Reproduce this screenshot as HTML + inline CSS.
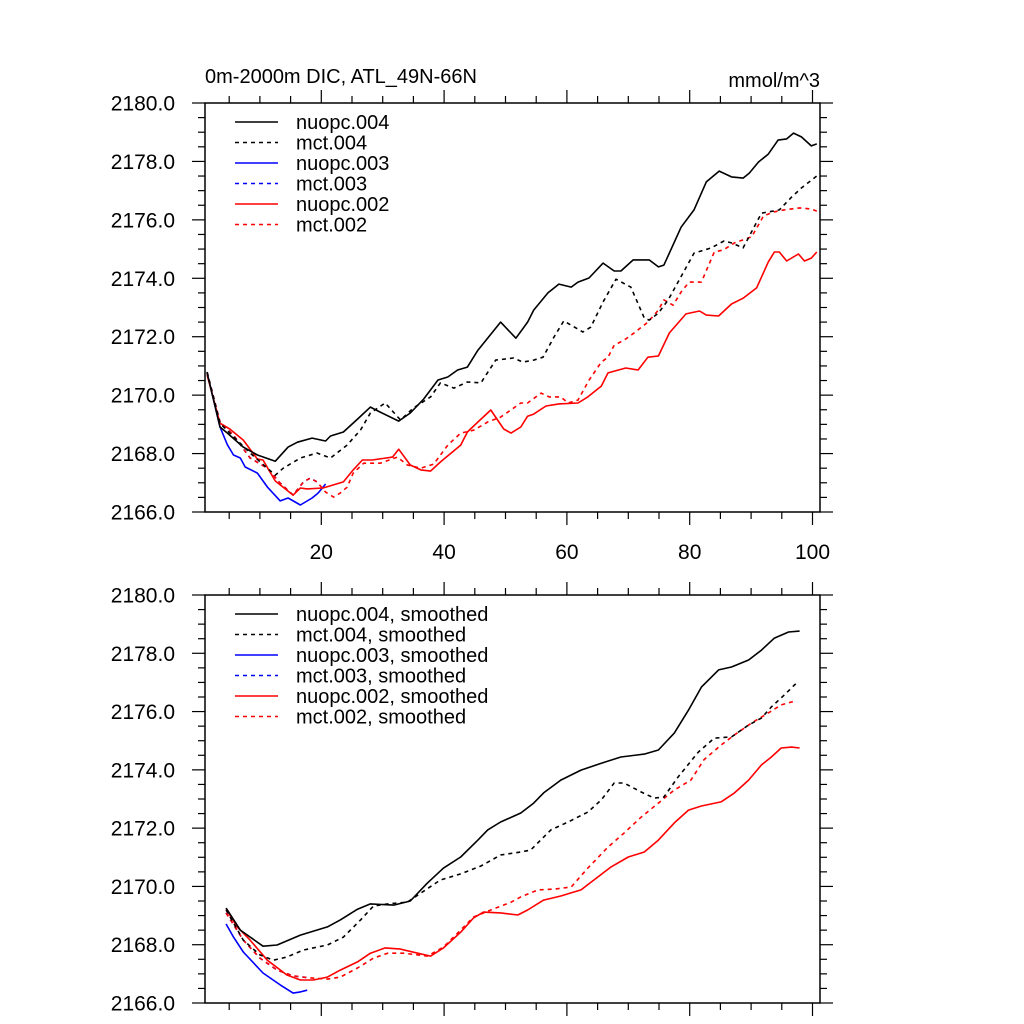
<!DOCTYPE html>
<html><head><meta charset="utf-8"><style>
html,body{margin:0;padding:0;background:#fff;}
svg{display:block;font-family:"Liberation Sans",sans-serif;}
</style></head><body>
<svg id="chart" width="1024" height="1024" viewBox="0 0 1024 1024" xmlns="http://www.w3.org/2000/svg">
<text x="205" y="83" font-size="20">0m-2000m DIC, ATL_49N-66N</text>
<text x="820" y="87" font-size="20" text-anchor="end">mmol/m^3</text>
</svg>
<script>
// ---- top panel raw series (year, value) ----
const topNuopc004X=[1.4,3.5,4.7,7.3,9.6,12.5,14.6,16.1,18.5,20.7,21.5,23.6,25.9,28.0,29.6,32.6,34.5,36.7,39.0,40.6,42.2,43.8,45.5,49.2,51.7,53.6,54.6,56.9,58.7,60.7,61.8,63.6,65.9,67.7,68.8,70.8,73.4,74.9,75.8,78.6,80.7,82.7,84.8,86.8,88.7,89.7,91.2,92.8,94.4,95.8,96.9,98.2,99.8,100.7];
const topNuopc004Y=[2170.76,2168.91,2168.70,2168.22,2167.95,2167.74,2168.22,2168.39,2168.53,2168.43,2168.60,2168.74,2169.18,2169.59,2169.42,2169.11,2169.39,2169.87,2170.52,2170.62,2170.86,2170.96,2171.54,2172.50,2171.95,2172.50,2172.91,2173.50,2173.80,2173.70,2173.87,2174.01,2174.52,2174.25,2174.25,2174.63,2174.63,2174.39,2174.45,2175.75,2176.34,2177.30,2177.67,2177.47,2177.43,2177.60,2177.98,2178.25,2178.73,2178.77,2178.97,2178.84,2178.53,2178.60];
const topMct004X=[1.4,3.5,5.1,8.4,12.5,13.8,16.6,19.3,21.5,24.2,26.4,28.0,30.4,32.9,35.0,37.8,39.4,41.6,43.8,46.0,48.4,51.3,52.8,54.6,56.1,57.9,59.5,62.6,63.9,65.9,68.0,70.4,72.6,73.4,74.9,76.5,80.7,83.5,85.6,86.8,88.7,91.7,92.8,94.6,96.6,98.2,100.7];
const topMct004Y=[2170.79,2169.04,2168.70,2168.02,2167.26,2167.50,2167.85,2168.02,2167.85,2168.29,2168.81,2169.39,2169.73,2169.15,2169.56,2169.94,2170.42,2170.24,2170.45,2170.42,2171.20,2171.27,2171.13,2171.20,2171.30,2171.99,2172.54,2172.16,2172.33,2173.19,2173.97,2173.70,2172.64,2172.57,2172.81,2173.26,2174.86,2175.04,2175.28,2175.21,2175.04,2176.23,2176.27,2176.34,2176.78,2177.09,2177.50];
const topNuopc003X=[1.4,3.5,4.7,5.7,6.8,7.6,9.6,11.2,13.3,14.6,16.6,18.5,19.5,20.7];
const topNuopc003Y=[2170.76,2168.91,2168.30,2167.95,2167.85,2167.54,2167.33,2166.86,2166.38,2166.48,2166.24,2166.48,2166.65,2166.96];
const topMct003X=[1.4,3.5,5.7,8.4,11.2,13.3,15.4,17.1,18.2,19.3];
const topMct003Y=[2170.79,2169.08,2168.63,2167.85,2167.50,2166.99,2166.58,2167.03,2167.16,2167.03];
const topNuopc002X=[1.4,3.5,5.1,7.3,9.6,10.5,12.5,13.8,15.4,16.6,17.7,20.3,23.6,25.2,26.7,28.3,31.6,32.6,34.5,36.2,37.8,39.4,42.7,43.8,45.5,47.6,49.7,50.9,52.5,53.6,54.6,56.6,58.7,61.8,63.4,65.6,66.7,69.6,71.6,73.2,74.9,76.7,79.4,81.6,82.7,84.7,86.8,88.7,90.9,92.8,93.8,94.6,95.8,97.7,98.7,99.8,100.7];
const topNuopc002Y=[2170.69,2169.04,2168.84,2168.46,2167.81,2167.78,2167.06,2166.85,2166.58,2166.82,2166.79,2166.82,2167.03,2167.44,2167.78,2167.78,2167.88,2168.15,2167.61,2167.44,2167.40,2167.71,2168.29,2168.74,2169.08,2169.49,2168.84,2168.70,2168.91,2169.28,2169.35,2169.63,2169.70,2169.73,2169.94,2170.31,2170.76,2170.93,2170.86,2171.30,2171.34,2172.13,2172.78,2172.88,2172.74,2172.71,2173.12,2173.32,2173.67,2174.56,2174.90,2174.90,2174.59,2174.83,2174.59,2174.69,2174.90];
const topMct002X=[1.4,3.5,5.7,8.4,11.2,13.3,15.4,17.1,18.2,19.3,20.7,22.0,23.1,24.2,25.2,26.9,29.6,32.4,34.0,36.2,38.3,40.6,42.7,44.8,47.1,49.2,52.5,53.6,55.8,57.1,59.0,60.2,61.8,63.6,65.6,66.7,67.7,69.3,70.9,73.2,74.9,75.8,77.3,78.6,79.9,81.9,84.0,85.5,87.3,90.1,92.0,93.6,95.4,97.9,99.8,100.7];
const topMct002Y=[2170.79,2169.08,2168.63,2167.85,2167.50,2166.99,2166.58,2167.03,2167.16,2167.03,2166.68,2166.51,2166.65,2166.85,2167.33,2167.67,2167.67,2167.88,2167.61,2167.50,2167.64,2168.29,2168.70,2168.80,2169.08,2169.25,2169.73,2169.73,2170.07,2169.94,2169.94,2169.73,2169.83,2170.51,2171.13,2171.30,2171.71,2171.88,2172.12,2172.50,2172.91,2173.26,2173.08,2173.53,2173.87,2173.87,2174.90,2174.97,2175.21,2175.42,2176.13,2176.27,2176.34,2176.41,2176.37,2176.30];
// ---- bottom panel smoothed series ----
const botNuopc004X=[4.5,6.8,10.5,12.8,16.6,21.0,23.1,25.9,28.0,31.8,34.5,37.3,39.9,42.7,45.5,47.1,49.2,52.5,54.6,56.2,59.0,62.3,65.6,68.8,72.6,74.9,77.5,79.8,81.9,84.7,86.8,89.6,91.7,93.8,96.1,97.9];
const botNuopc004Y=[2169.26,2168.50,2167.95,2167.99,2168.33,2168.61,2168.85,2169.22,2169.40,2169.36,2169.50,2170.12,2170.63,2171.01,2171.59,2171.94,2172.21,2172.52,2172.86,2173.21,2173.65,2173.99,2174.23,2174.44,2174.54,2174.68,2175.26,2176.05,2176.84,2177.43,2177.53,2177.77,2178.11,2178.52,2178.73,2178.76];
const botMct004X=[4.5,7.3,10.0,12.2,14.4,17.1,21.0,23.6,26.4,28.5,30.8,34.0,36.2,39.4,42.7,46.0,49.2,52.5,54.1,57.4,60.2,63.4,65.6,67.7,69.3,72.1,74.2,75.8,78.1,81.4,84.0,86.8,89.6,91.7,93.3,95.4,97.4];
const botMct004Y=[2169.19,2168.16,2167.65,2167.47,2167.58,2167.82,2167.99,2168.26,2168.85,2169.33,2169.40,2169.46,2169.77,2170.22,2170.43,2170.70,2171.08,2171.18,2171.25,2171.94,2172.21,2172.55,2172.97,2173.55,2173.55,2173.24,2173.03,2173.07,2173.75,2174.61,2175.09,2175.13,2175.54,2175.78,2176.16,2176.57,2176.98];
const botNuopc003X=[4.5,5.7,7.3,10.5,13.3,15.4,16.6,17.7];
const botNuopc003Y=[2168.71,2168.26,2167.75,2167.03,2166.62,2166.34,2166.38,2166.44];
const botMct003X=[4.5,7.3,10.0,12.8,15.4,18.2];
const botMct003Y=[2169.09,2168.16,2167.54,2167.13,2166.93,2166.86];
const botNuopc002X=[4.5,6.3,8.4,11.2,14.4,16.6,18.7,21.0,23.1,25.9,28.0,30.4,32.9,35.7,37.8,39.9,42.7,44.8,46.4,49.2,52.0,53.6,56.2,59.0,62.3,64.4,67.2,70.0,72.6,74.9,77.5,79.8,81.9,85.1,87.3,89.6,91.7,93.3,94.9,96.6,97.9];
const botNuopc002Y=[2169.22,2168.61,2168.16,2167.47,2166.96,2166.79,2166.79,2166.89,2167.13,2167.41,2167.71,2167.89,2167.85,2167.71,2167.61,2167.89,2168.43,2168.92,2169.12,2169.09,2169.02,2169.19,2169.53,2169.67,2169.88,2170.22,2170.67,2171.01,2171.18,2171.59,2172.18,2172.62,2172.76,2172.90,2173.21,2173.65,2174.17,2174.44,2174.75,2174.78,2174.75];
const botMct002X=[4.5,7.3,10.0,12.8,15.4,18.2,21.0,23.1,25.9,28.5,30.8,33.4,37.3,39.9,42.2,44.8,47.6,50.9,52.5,55.3,57.9,60.7,63.4,66.7,69.3,72.1,74.9,77.5,80.2,82.3,85.1,87.3,90.1,92.8,94.9,97.1];
const botMct002Y=[2169.09,2168.16,2167.54,2167.13,2166.93,2166.86,2166.82,2166.89,2167.20,2167.54,2167.71,2167.71,2167.61,2167.92,2168.40,2168.95,2169.19,2169.46,2169.64,2169.88,2169.91,2169.98,2170.63,2171.35,2171.83,2172.38,2172.86,2173.31,2173.65,2174.34,2174.85,2175.20,2175.61,2175.95,2176.23,2176.36];
const yTickValues=[2166,2168,2170,2172,2174,2176,2178,2180];
const yTickLabels=["2166.0","2168.0","2170.0","2172.0","2174.0","2176.0","2178.0","2180.0"];
const xTickValues=[20,40,60,80,100];
const xTickLabels=["20","40","60","80","100"];
const topLegend=["nuopc.004","mct.004","nuopc.003","mct.003","nuopc.002","mct.002"];
const botLegend=["nuopc.004, smoothed","mct.004, smoothed","nuopc.003, smoothed","mct.003, smoothed","nuopc.002, smoothed","mct.002, smoothed"];

const NS="http://www.w3.org/2000/svg";
const svg=document.getElementById('chart');
function mk(tag,attrs,parent){const e=document.createElementNS(NS,tag);for(const k in attrs)e.setAttribute(k,attrs[k]);(parent||svg).appendChild(e);return e;}
const L=205,R=820,X0=198.5,XK=6.14;
const xs=v=>X0+v*XK;
const YMIN=2166,YMAX=2180;
function panel(top,bot,name,series,legend,showX){
  const g=mk('g',{});
  
  
  const ys=v=>bot-(v-YMIN)/(YMAX-YMIN)*(bot-top);
  for(let v=YMIN;v<=YMAX+1e-6;v+=0.5){
    const maj=Math.abs(v/2-Math.round(v/2))<1e-6;const len=maj?13:7;const y=ys(v);
    mk('line',{x1:L-len,x2:L,y1:y,y2:y,stroke:'#000','stroke-width':1.2},g);
    mk('line',{x1:R,x2:R+len,y1:y,y2:y,stroke:'#000','stroke-width':1.2},g);
  }
  yTickValues.forEach((v,i)=>{const t=mk('text',{x:175,y:ys(v)+7.5,'font-size':21,'text-anchor':'end'},g);t.textContent=yTickLabels[i];
    
    });
  for(let v=5;v<=100;v+=5){
    const maj=v%20===0;const len=maj?13:7;const x=xs(v);
    mk('line',{x1:x,x2:x,y1:bot,y2:bot+len,stroke:'#000','stroke-width':1.2},g);
    mk('line',{x1:x,x2:x,y1:top-len,y2:top,stroke:'#000','stroke-width':1.2},g);
  }
  if(showX) xTickValues.forEach((v,i)=>{const t=mk('text',{x:xs(v),y:bot+47,'font-size':21,'text-anchor':'middle'},g);t.textContent=xTickLabels[i];
    
    });
  mk('rect',{x:L,y:top,width:R-L,height:bot-top,fill:'none',stroke:'#000','stroke-width':1.5},g);
  series.forEach(s=>{
    const d=s.x.map((x,i)=>(i?'L':'M')+xs(x).toFixed(1)+' '+ys(s.y[i]).toFixed(1)).join(' ');
    const p=mk('path',{d:d,fill:'none',stroke:s.c,'stroke-width':1.6,'stroke-dasharray':s.dash?'4 4':'none','stroke-linejoin':'round'},g);
    
    
  });
  const colors=['#000','#000','#00f','#00f','#f00','#f00'];
  legend.forEach((lab,i)=>{
    const y=top+19+i*20.5;
    const ln=mk('line',{x1:235,x2:278,y1:y,y2:y,stroke:colors[i],'stroke-width':1.6,'stroke-dasharray':i%2?'4 4':'none'},g);
    
    
    const t=mk('text',{x:296,y:y+7,'font-size':20},g);t.textContent=lab;
    
    
  });
}
panel(103,512,'top-panel',[
 {x:topMct003X,y:topMct003Y,c:'#00f',dash:1,n:'mct003-line'},
 {x:topNuopc003X,y:topNuopc003Y,c:'#00f',dash:0,n:'nuopc003-line'},
 {x:topMct002X,y:topMct002Y,c:'#f00',dash:1,n:'mct002-line'},
 {x:topNuopc002X,y:topNuopc002Y,c:'#f00',dash:0,n:'nuopc002-line'},
 {x:topMct004X,y:topMct004Y,c:'#000',dash:1,n:'mct004-line'},
 {x:topNuopc004X,y:topNuopc004Y,c:'#000',dash:0,n:'nuopc004-line'}
],topLegend,true);
panel(595,1003,'bottom-panel',[
 {x:botMct003X,y:botMct003Y,c:'#00f',dash:1,n:'mct003-smoothed-line'},
 {x:botNuopc003X,y:botNuopc003Y,c:'#00f',dash:0,n:'nuopc003-smoothed-line'},
 {x:botMct002X,y:botMct002Y,c:'#f00',dash:1,n:'mct002-smoothed-line'},
 {x:botNuopc002X,y:botNuopc002Y,c:'#f00',dash:0,n:'nuopc002-smoothed-line'},
 {x:botMct004X,y:botMct004Y,c:'#000',dash:1,n:'mct004-smoothed-line'},
 {x:botNuopc004X,y:botNuopc004Y,c:'#000',dash:0,n:'nuopc004-smoothed-line'}
],botLegend,false);
</script>
</body></html>
